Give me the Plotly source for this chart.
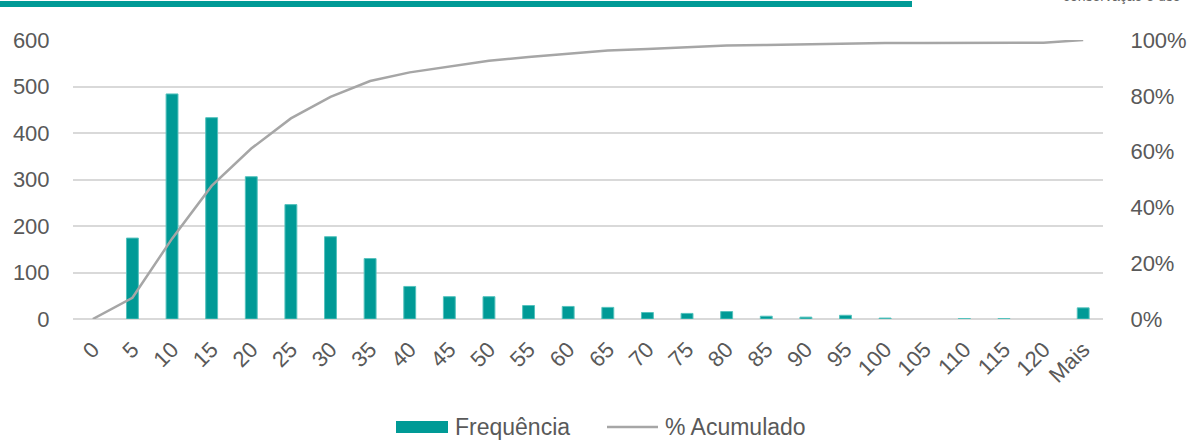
import plotly.graph_objects as go
from plotly.subplots import make_subplots

# Histogram bins (upper limits) and their counts
categories = ["0", "5", "10", "15", "20", "25", "30", "35", "40", "45", "50", "55", "60",
              "65", "70", "75", "80", "85", "90", "95", "100", "105", "110", "115", "120", "Mais"]
frequencia = [0, 174, 484, 433, 306, 246, 177, 130, 70, 48, 48, 29, 27,
              25, 14, 12, 16, 6, 4, 8, 2, 0, 1, 1, 0, 24]
# Cumulative share of observations (%)
acumulado = [0, 7.6, 28.8, 47.7, 61.1, 71.9, 79.6, 85.3, 88.4, 90.5, 92.6, 93.9, 95.1,
             96.2, 96.8, 97.3, 98.0, 98.2, 98.4, 98.8, 98.9, 98.9, 98.9, 99.0, 99.0, 100]

left_ticks = [0, 100, 200, 300, 400, 500, 600]
right_ticks = [0, 0.2, 0.4, 0.6, 0.8, 1.0]

W, H = 1197, 443
ML, MR, MT, MB = 73, 94, 40, 124
PW, PH = W - ML - MR, H - MT - MB

TEAL = "#009A96"
GRAY_LINE = "#A6A6A6"
TXT = "#595959"
GRID = "#D9D9D9"
FONT = "Liberation Sans, Arial, sans-serif"


def px_x(x):
    return (x - ML) / PW


def px_y(y):
    return (H - MB - y) / PH


fig = make_subplots(specs=[[{"secondary_y": True}]])

fig.add_trace(go.Bar(
    x=categories, y=frequencia, name="Frequência", width=0.3,
    marker=dict(color=TEAL,
                line=dict(color="#55C2BD", width=[0 if v == 0 else 1 for v in frequencia])),
    showlegend=False), secondary_y=False)

fig.add_trace(go.Scatter(
    x=categories, y=[v / 100 for v in acumulado], name="% Acumulado", mode="lines",
    line=dict(color=GRAY_LINE, width=2.5), showlegend=False), secondary_y=True)

fig.update_xaxes(type="category", range=[-0.5, len(categories) - 0.5], tickangle=-45,
                 domain=[0, 1],
                 tickfont=dict(size=22, color=TXT, family=FONT), showgrid=False,
                 showline=False, ticks="outside", ticklen=8, tickcolor="rgba(0,0,0,0)",
                 automargin=False)

fig.update_yaxes(range=[0, 600], tickvals=left_ticks, showgrid=True, gridcolor=GRID,
                 gridwidth=1.5, zeroline=True, zerolinecolor=GRID, zerolinewidth=2,
                 tickfont=dict(size=22, color=TXT, family=FONT), ticks="outside",
                 ticklen=18, tickcolor="rgba(0,0,0,0)", showline=False, automargin=False,
                 secondary_y=False)

fig.update_yaxes(range=[0, 1], tickvals=right_ticks, tickformat=".0%", showgrid=False,
                 zeroline=False, tickfont=dict(size=22, color=TXT, family=FONT),
                 ticks="outside", ticklen=22, tickcolor="rgba(0,0,0,0)", showline=False,
                 automargin=False, secondary_y=True)

shapes = [
    # header band
    dict(type="rect", xref="paper", yref="paper", x0=px_x(0), x1=px_x(912),
         y0=px_y(7), y1=px_y(1), fillcolor=TEAL, line=dict(width=0), layer="above"),
    # legend keys
    dict(type="rect", xref="paper", yref="paper", x0=px_x(396), x1=px_x(448),
         y0=px_y(433), y1=px_y(421), fillcolor=TEAL, line=dict(width=0)),
    dict(type="line", xref="paper", yref="paper", x0=px_x(607), x1=px_x(658),
         y0=px_y(427), y1=px_y(427), line=dict(color=GRAY_LINE, width=2.5)),
]

annotations = [
    dict(text="Frequência", xref="paper", yref="paper", x=px_x(453), y=px_y(427),
         xanchor="left", yanchor="middle", showarrow=False,
         font=dict(size=23, color=TXT, family=FONT)),
    dict(text="% Acumulado", xref="paper", yref="paper", x=px_x(663), y=px_y(427),
         xanchor="left", yanchor="middle", showarrow=False,
         font=dict(size=23, color=TXT, family=FONT)),
    # page header caption running off the top edge
    dict(text="conservação e uso", xref="paper", yref="paper", x=px_x(1061),
         y=px_y(6), xanchor="left", yanchor="bottom", showarrow=False,
         font=dict(size=14, color="#666666", family=FONT)),
]

fig.update_layout(
    width=W, height=H, margin=dict(l=ML, r=MR, t=MT, b=MB),
    plot_bgcolor="white", paper_bgcolor="white",
    shapes=shapes, annotations=annotations, showlegend=False,
)

fig.write_html("out.html")
